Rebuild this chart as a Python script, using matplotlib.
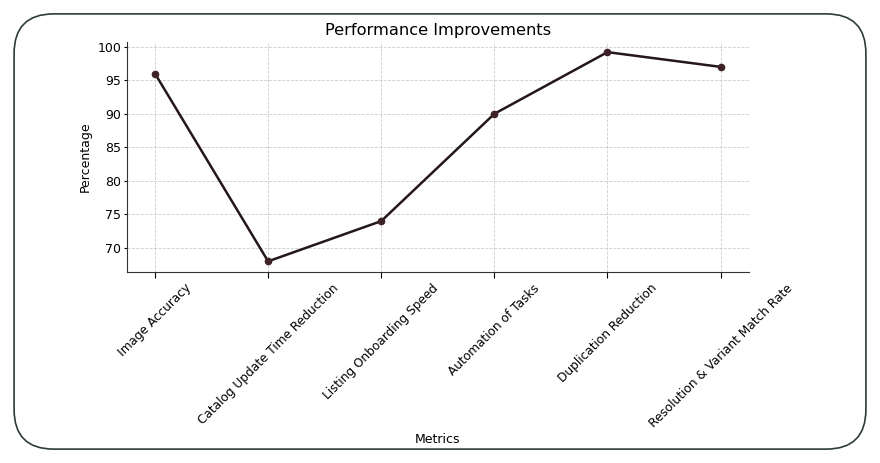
import matplotlib.pyplot as plt
from matplotlib.patches import FancyBboxPatch

metrics = ["Image Accuracy", "Catalog Update Time Reduction", "Listing Onboarding Speed",
           "Automation of Tasks", "Duplication Reduction", "Resolution & Variant Match Rate"]
percentages = [96, 68, 74, 90, 99.2, 97]

fig = plt.figure(figsize=(8.8, 4.63), dpi=100)
ax = fig.add_axes([0.144, 0.413, 0.707, 0.497])

# rounded frame round the whole picture
frame = FancyBboxPatch((0.016, 0.03), 0.968, 0.94,
                       boxstyle="round,pad=0,rounding_size=0.045",
                       transform=fig.transFigure, fill=False,
                       edgecolor="#2e3b3b", linewidth=1.2, mutation_aspect=880/463)
fig.patches.append(frame)

x = range(len(metrics))
ax.plot(x, percentages, color="#24161a", linewidth=1.8, marker="o",
        markersize=4.5, markerfacecolor="#3d2228", markeredgecolor="#3d2228")

ax.set_xticks(list(x))
ax.set_xticklabels(metrics, rotation=45, fontsize=8.7)
ax.tick_params(axis="y", labelsize=9, length=2, pad=2)
ax.tick_params(axis="x", length=4, pad=3)
ax.set_title("Performance Improvements", fontsize=11.7, pad=5)
ax.set_xlabel("Metrics", fontsize=9)
ax.xaxis.set_label_coords(0.5, -0.70)
ax.set_ylabel("Percentage", fontsize=9, labelpad=4)
ax.grid(True, linestyle="--", linewidth=0.6, color="#cccccc")
ax.set_axisbelow(True)
for s in ["top", "right"]:
    ax.spines[s].set_visible(False)
for s in ["left", "bottom"]:
    ax.spines[s].set_color("#333333")

fig.savefig("out.png", dpi=100)
